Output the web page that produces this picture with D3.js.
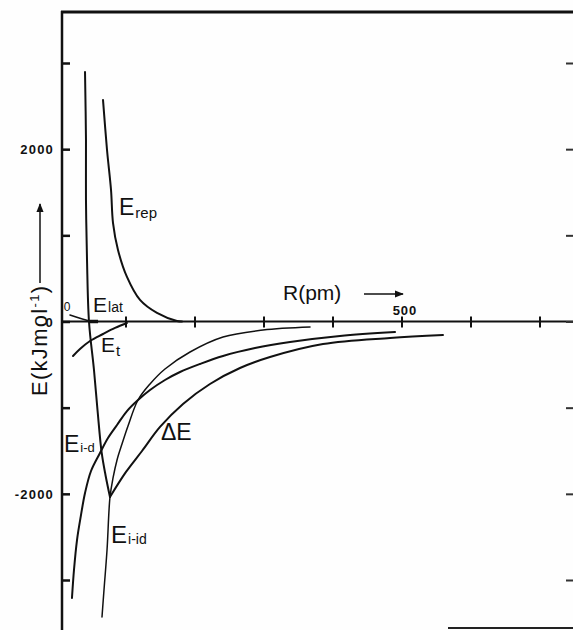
<!DOCTYPE html>
<html>
<head>
<meta charset="utf-8">
<script src="https://cdn.jsdelivr.net/npm/d3@7"></script>
<style>
  body { margin: 0; background: #fff; }
  text { font-family: "Liberation Sans", Arial, sans-serif; fill: #111; }
</style>
</head>
<body>
<div id="visContainer"></div>
<script>
'use strict';

// curves as [R (pm), E (kJ/mol)]
const deltaE = [[40.6, 2895], [42.0, 2106], [42.0, 1410], [43.5, 713], [46.4, -6], [53.6, -563],
  [58.7, -1027], [64.8, -1526], [70.4, -1787], [76.8, -2037], [100.0, -1746], [123.2, -1503],
  [149.3, -1224], [182.6, -957], [221.7, -725], [265.2, -540], [308.7, -412], [385.5, -261],
  [482.6, -191], [559.4, -157]];

const eRep = [[66.7, 2570], [72.5, 1990], [78.3, 1526], [81.2, 1143], [88.4, 830], [101.4, 517],
  [120.3, 250], [144.9, 99], [173.9, 6], [181.2, 0]];

const eIid = [[65.2, -3429], [68.1, -3116], [72.5, -2652], [76.8, -2037], [81.2, -1816], [87.0, -1607],
  [94.2, -1422], [102.9, -1213], [117.4, -911], [134.8, -725], [156.5, -551], [192.8, -354],
  [240.6, -180], [298.6, -99], [366.7, -64]];

const eId = [[21.7, -3209], [24.6, -2884], [29.0, -2536], [34.8, -2245], [40.6, -1990], [49.3, -1735],
  [62.3, -1526], [73.9, -1352], [87.0, -1201], [101.4, -1039], [117.4, -911], [134.8, -795],
  [156.5, -679], [178.3, -586], [207.2, -493], [240.6, -400], [287.0, -308], [337.7, -238],
  [410.1, -168], [489.9, -122]];

const eT = [[23.2, -400], [33.3, -319], [47.8, -226], [66.7, -145], [84.1, -75], [101.4, -17]];

const eLat = [[18.8, 75], [47.8, 6], [59.4, 0]];

// tick values and labels
const xTicks = [100, 200, 300, 400, 500, 600, 700];
const xLabels = [500];
const yTicks = [3000, 2000, 1000, 0, -1000, -2000, -3000];
const yLabels = [2000, 0, -2000];

var svg = d3.select('#visContainer')
    .append('svg')
    .attr('width', 573)
    .attr('height', 630);

svg.append('rect').attr('width', 573).attr('height', 630).attr('fill', '#fefefe');

// scales
var x = d3.scaleLinear().domain([0, 700]).range([57, 540]);
var y = d3.scaleLinear().domain([-3000, 3000]).range([580, 63]);
var left = 62, right = 573;

// frame: top line, y axis, x axis
svg.append('line').attr('x1', left - 1).attr('x2', right).attr('y1', 12).attr('y2', 12)
  .attr('stroke', '#111').attr('stroke-width', 3);
svg.append('line').attr('x1', left).attr('x2', left).attr('y1', 11).attr('y2', 630)
  .attr('stroke', '#111').attr('stroke-width', 2.5);
svg.append('line').attr('x1', left).attr('x2', right).attr('y1', y(0)).attr('y2', y(0))
  .attr('stroke', '#111').attr('stroke-width', 2.2);
svg.append('line').attr('x1', 448).attr('x2', right).attr('y1', 628).attr('y2', 628)
  .attr('stroke', '#222').attr('stroke-width', 2);

// y ticks (left axis, pointing inwards) and cut-off right axis ticks
svg.append('g')
  .attr('transform', 'translate(' + left + ',0)')
  .call(d3.axisRight(y).tickValues(yTicks).tickSize(8).tickFormat(''))
  .call(g => g.select('.domain').remove())
  .call(g => g.selectAll('line').attr('stroke', '#111').attr('stroke-width', 2.5));
svg.append('g')
  .attr('transform', 'translate(' + right + ',0)')
  .call(d3.axisLeft(y).tickValues(yTicks).tickSize(7).tickFormat(''))
  .call(g => g.select('.domain').remove())
  .call(g => g.selectAll('line').attr('stroke', '#333').attr('stroke-width', 2));

// y tick labels
svg.selectAll('.ylab').data(yLabels).enter().append('text')
  .attr('class', 'ylab')
  .attr('x', 54)
  .attr('y', d => y(d) + 5)
  .attr('text-anchor', 'end')
  .attr('font-size', 13)
  .attr('font-weight', 'bold')
  .attr('letter-spacing', 1.2)
  .text(d => d === 0 ? '0' : (d < 0 ? '-' + Math.abs(d) : d));

// x ticks crossing the axis
svg.selectAll('.xtick').data(xTicks).enter().append('line')
  .attr('class', 'xtick')
  .attr('x1', d => x(d)).attr('x2', d => x(d))
  .attr('y1', y(0) - 5).attr('y2', y(0) + 6)
  .attr('stroke', '#111').attr('stroke-width', 2);

svg.selectAll('.xlab').data(xLabels).enter().append('text')
  .attr('class', 'xlab')
  .attr('x', d => x(d) + 3)
  .attr('y', y(0) - 7)
  .attr('text-anchor', 'middle')
  .attr('font-size', 13)
  .attr('font-weight', 'bold')
  .attr('letter-spacing', 1)
  .text(d => d);

// small "0" at the origin
svg.append('text').attr('x', 67).attr('y', 311).attr('text-anchor', 'middle')
  .attr('font-size', 12).text('0');

// axis titles
svg.append('text')
  .attr('x', 283).attr('y', 300)
  .attr('font-size', 21)
  .text('R(pm)');

svg.append('defs').append('marker')
  .attr('id', 'head').attr('viewBox', '0 0 10 10')
  .attr('refX', 9).attr('refY', 5)
  .attr('markerWidth', 9).attr('markerHeight', 9)
  .attr('markerUnits', 'userSpaceOnUse')
  .attr('orient', 'auto')
  .append('path').attr('d', 'M0,1 L10,5 L0,9 Z').attr('fill', '#111');

svg.append('line').attr('x1', 364).attr('x2', 403).attr('y1', 294).attr('y2', 294)
  .attr('stroke', '#111').attr('stroke-width', 1.5).attr('marker-end', 'url(#head)');

var yTitle = svg.append('text')
  .attr('transform', 'translate(47,396) rotate(-90)')
  .attr('font-size', 22)
  .attr('textLength', 110)
  .attr('lengthAdjust', 'spacing');
yTitle.append('tspan').text('E(kJmol');
yTitle.append('tspan').attr('font-size', 13).attr('dy', -8).text('-1');
yTitle.append('tspan').attr('dy', 8).text(')');

svg.append('line').attr('x1', 40).attr('x2', 40).attr('y1', 283).attr('y2', 204)
  .attr('stroke', '#111').attr('stroke-width', 1.5).attr('marker-end', 'url(#head)');

// curves
var line = d3.line()
  .x(d => x(d[0]))
  .y(d => y(d[1]))
  .curve(d3.curveCatmullRom.alpha(0.5));

// the delta E curve has a sharp minimum, so draw it as two pieces
var iMin = d3.minIndex(deltaE, d => d[1]);

var curves = [
  {data: deltaE.slice(0, iMin + 1), w: 2},
  {data: deltaE.slice(iMin), w: 2},
  {data: eRep, w: 2},
  {data: eIid, w: 1.5},
  {data: eId, w: 2},
  {data: eT, w: 2},
  {data: eLat, w: 1.5}
];

svg.selectAll('.curve').data(curves).enter().append('path')
  .attr('class', 'curve')
  .attr('d', d => line(d.data))
  .attr('fill', 'none')
  .attr('stroke', '#111')
  .attr('stroke-width', d => d.w)
  .attr('stroke-linejoin', 'round')
  .attr('stroke-linecap', 'round');

// short thick piece of E_lat along the axis
svg.append('line')
  .attr('x1', x(eLat[1][0])).attr('x2', x(eLat[2][0]))
  .attr('y1', y(0)).attr('y2', y(0))
  .attr('stroke', '#111').attr('stroke-width', 3.5);

// curve labels
var labels = [
  {main: 'E', sub: 'rep', x: 119, y: 215, fs: 23, sfs: 15, dy: 3},
  {main: 'E', sub: 'lat', x: 93, y: 312, fs: 21, sfs: 14, dy: 0},
  {main: 'E', sub: 't', x: 101, y: 352, fs: 21, sfs: 15, dy: 4},
  {main: 'ΔE', sub: '', x: 161, y: 440, fs: 23, sfs: 14, dy: 0},
  {main: 'E', sub: 'i-d', x: 64, y: 452, fs: 23, sfs: 13, dy: 0},
  {main: 'E', sub: 'i-id', x: 111, y: 543, fs: 24, sfs: 14, dy: 1}
];

labels.forEach(function(l) {
  var t = svg.append('text').attr('x', l.x).attr('y', l.y).attr('font-size', l.fs);
  t.append('tspan').text(l.main);
  if (l.sub) {
    t.append('tspan').attr('font-size', l.sfs).attr('dy', l.dy).attr('dx', 1).text(l.sub);
  }
});
</script>
</body>
</html>
